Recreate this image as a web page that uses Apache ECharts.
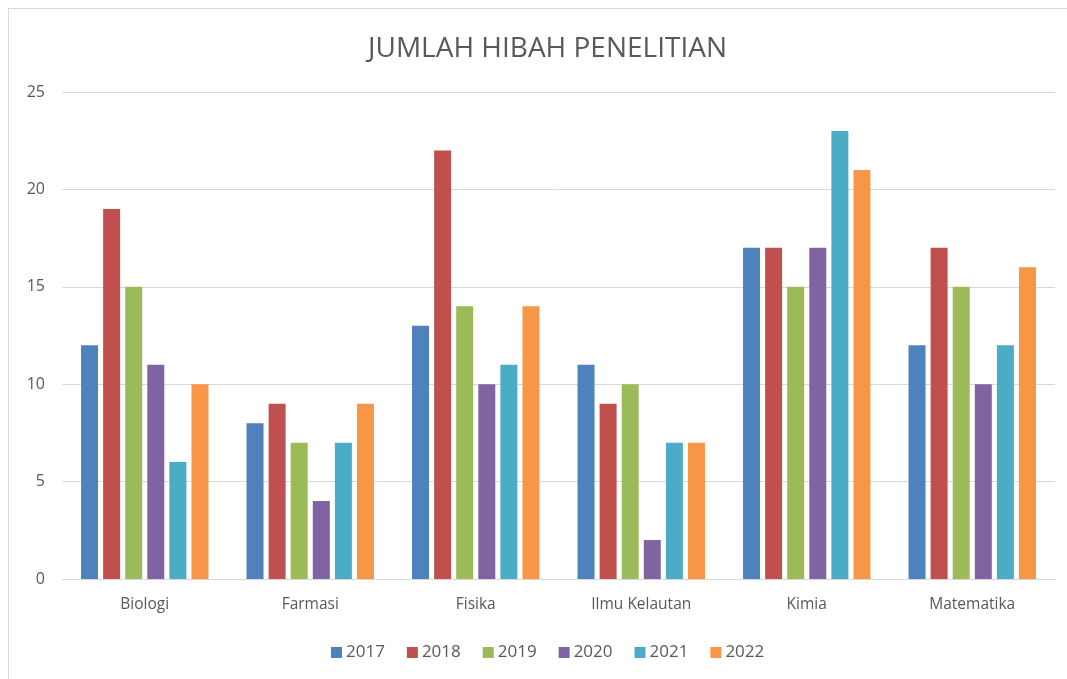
<!DOCTYPE html>
<html>
<head>
<meta charset="utf-8">
<script src="https://cdn.jsdelivr.net/npm/echarts@6/dist/echarts.min.js"></script>
<style>
  html, body { margin: 0; padding: 0; background: #fff; }
  #frame { position: absolute; left: 8px; top: 8px; width: 1100px; height: 700px; border: 1px solid #d9d9d9; }
  #main { position: absolute; left: 0; top: 0; width: 1067px; height: 679px; }
</style>
</head>
<body>
<div id="frame"></div>
<div id="main"></div>
<script>
var categories = ['Biologi', 'Farmasi', 'Fisika', 'Ilmu Kelautan', 'Kimia', 'Matematika'];
var years = ['2017', '2018', '2019', '2020', '2021', '2022'];
var v2017 = [12, 8, 13, 11, 17, 12];
var v2018 = [19, 9, 22, 9, 17, 17];
var v2019 = [15, 7, 14, 10, 15, 15];
var v2020 = [11, 4, 10, 2, 17, 10];
var v2021 = [6, 7, 11, 7, 23, 12];
var v2022 = [10, 9, 14, 7, 21, 16];
var colors = ['#4F81BD', '#C0504D', '#9BBB59', '#8064A2', '#4BACC6', '#F79646'];

var seriesData = [v2017, v2018, v2019, v2020, v2021, v2022];
var myChart = echarts.init(document.getElementById('main'));
var options = {
    color: colors,
    textStyle: { fontFamily: 'Open Sans' },
    title: {
        text: 'JUMLAH HIBAH PENELITIAN',
        left: 363,
        top: 30,
        textStyle: { fontSize: 28, fontWeight: 'normal', color: '#595959' }
    },
    legend: {
        bottom: 13,
        left: 326,
        itemWidth: 11,
        itemHeight: 11,
        itemGap: 22,
        icon: 'rect',
        textStyle: { fontSize: 17, color: '#595959', padding: [0, 0, 0, -1] }
    },
    grid: { left: 62, right: 12, top: 92, bottom: 100 },
    xAxis: {
        type: 'category',
        data: categories,
        axisLine: { lineStyle: { color: '#d9d9d9' } },
        axisTick: { show: false },
        axisLabel: { color: '#595959', fontSize: 15.5, margin: 18 }
    },
    yAxis: {
        type: 'value',
        min: 0,
        max: 25,
        interval: 5,
        axisLine: { show: false },
        axisTick: { show: false },
        axisLabel: { color: '#595959', fontSize: 16, margin: 17 },
        splitLine: { lineStyle: { color: '#d9d9d9' } }
    },
    series: years.map(function (y, i) {
        return {
            name: y,
            type: 'bar',
            data: seriesData[i],
            barGap: '30%',
            barCategoryGap: '23%'
        };
    })
};
myChart.setOption(options);
</script>
</body>
</html>
